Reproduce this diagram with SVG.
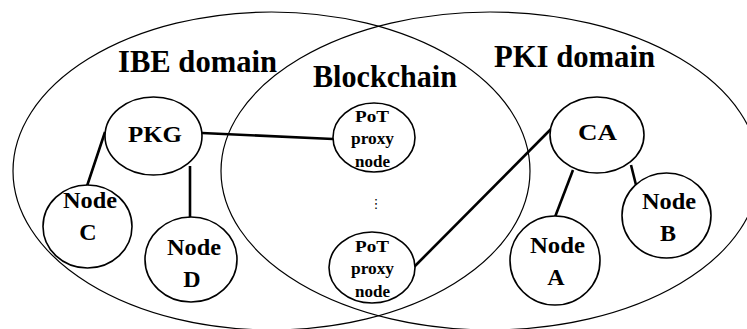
<svg xmlns="http://www.w3.org/2000/svg" width="747" height="329" viewBox="0 0 747 329">
<style>
.dom{fill:none;stroke:#000;stroke-width:1.2}
.nd{fill:#fff;stroke:#000;stroke-width:1.6}
.ln{stroke:#000;stroke-width:2.6;fill:none}
text{font-family:"Liberation Serif","Times New Roman",serif;font-weight:bold;fill:#000;text-anchor:middle}
.t{font-size:31px}
.n{font-size:24px}
.p{font-size:17.5px}
</style>
<rect width="747" height="329" fill="#fff"/>
<g id="domains">
<ellipse class="dom" cx="271.5" cy="171" rx="258.5" ry="159"/>
<ellipse class="dom" cx="490" cy="171" rx="269" ry="159"/>
</g>
<g id="titles">
<text class="t" x="197.5" y="72" textLength="159" lengthAdjust="spacingAndGlyphs">IBE domain</text>
<text class="t" x="385" y="87" textLength="144" lengthAdjust="spacingAndGlyphs">Blockchain</text>
<text class="t" x="574.5" y="67" textLength="161" lengthAdjust="spacingAndGlyphs">PKI domain</text>
</g>
<g id="connectors">
<line class="ln" x1="105" y1="132" x2="87" y2="186"/>
<line class="ln" x1="190" y1="166" x2="190" y2="218"/>
<line class="ln" x1="202" y1="133" x2="333" y2="139"/>
<line class="ln" x1="573" y1="170" x2="555" y2="217"/>
<line class="ln" x1="631" y1="165" x2="636" y2="185"/>
<line class="ln" x1="552" y1="128" x2="414" y2="267"/>
</g>
<g id="pkg">
<ellipse class="nd" cx="153.5" cy="136" rx="48.5" ry="39"/>
<text class="n" x="155" y="142" textLength="54" lengthAdjust="spacingAndGlyphs">PKG</text>
</g>
<g id="nodeC">
<ellipse class="nd" cx="87.5" cy="226.5" rx="44.5" ry="41.5"/>
<text class="n" x="90" y="208" textLength="54" lengthAdjust="spacingAndGlyphs">Node</text>
<text class="n" x="88" y="240">C</text>
</g>
<g id="nodeD">
<ellipse class="nd" cx="191" cy="259.5" rx="46" ry="42.5"/>
<text class="n" x="194" y="255" textLength="54" lengthAdjust="spacingAndGlyphs">Node</text>
<text class="n" x="192" y="287">D</text>
</g>
<g id="pot1">
<ellipse class="nd" cx="374" cy="137.5" rx="41" ry="34.5"/>
<text class="p" x="372" y="122" textLength="34" lengthAdjust="spacingAndGlyphs">PoT</text>
<text class="p" x="372.5" y="144" textLength="43" lengthAdjust="spacingAndGlyphs">proxy</text>
<text class="p" x="372.5" y="167" textLength="35" lengthAdjust="spacingAndGlyphs">node</text>
</g>
<g id="dots">
<text x="376" y="208" style="font-family:'DejaVu Sans',sans-serif;font-weight:normal;font-size:13px">⋮</text>
</g>
<g id="pot2">
<ellipse class="nd" cx="372" cy="267.5" rx="43" ry="35.5"/>
<text class="p" x="372" y="252" textLength="34" lengthAdjust="spacingAndGlyphs">PoT</text>
<text class="p" x="372.5" y="274" textLength="43" lengthAdjust="spacingAndGlyphs">proxy</text>
<text class="p" x="372.5" y="297" textLength="35" lengthAdjust="spacingAndGlyphs">node</text>
</g>
<g id="ca">
<ellipse class="nd" cx="597" cy="135" rx="47" ry="38"/>
<text class="n" x="597.5" y="140" textLength="39" lengthAdjust="spacingAndGlyphs">CA</text>
</g>
<g id="nodeA">
<ellipse class="nd" cx="555" cy="260.5" rx="45" ry="44.5"/>
<text class="n" x="557.5" y="253" textLength="55" lengthAdjust="spacingAndGlyphs">Node</text>
<text class="n" x="556" y="285">A</text>
</g>
<g id="nodeB">
<ellipse class="nd" cx="666.5" cy="215.5" rx="44.5" ry="42.5"/>
<text class="n" x="669" y="209" textLength="54" lengthAdjust="spacingAndGlyphs">Node</text>
<text class="n" x="668" y="241">B</text>
</g>
</svg>
